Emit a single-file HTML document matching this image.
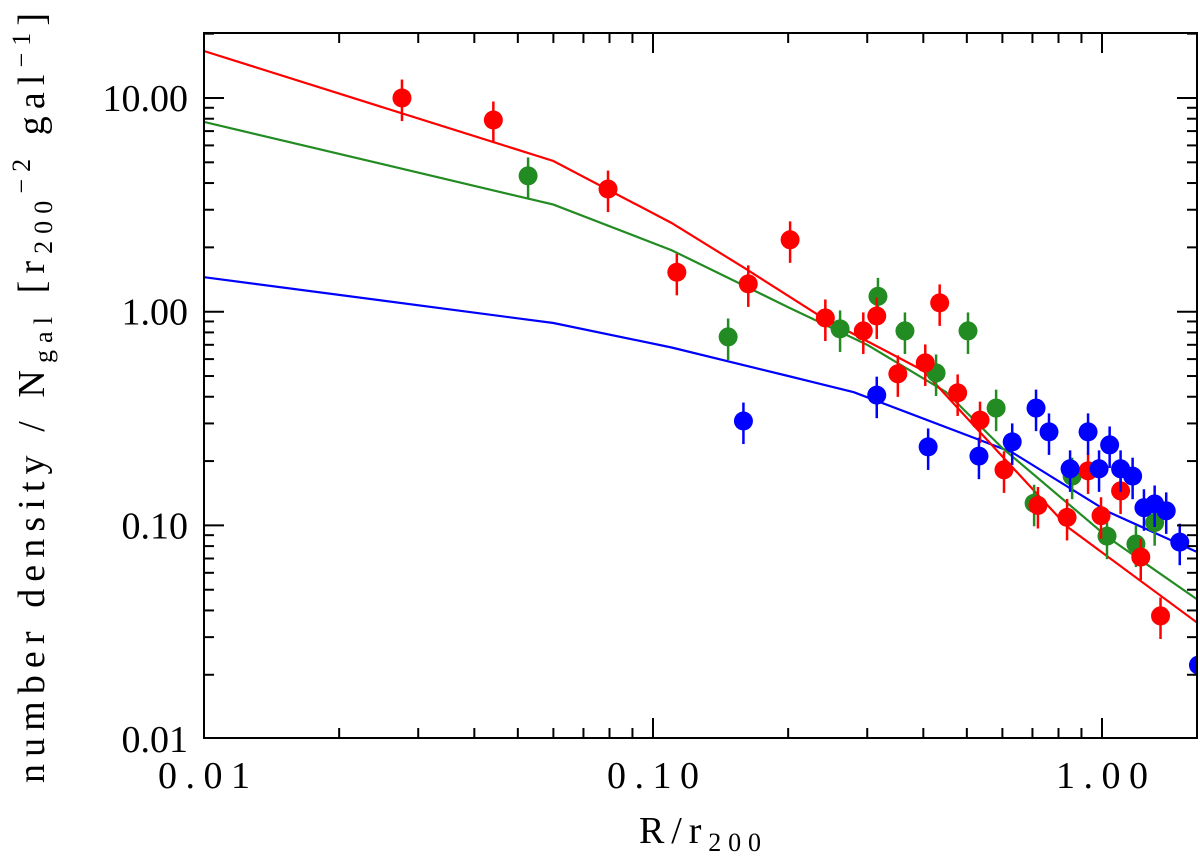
<!DOCTYPE html>
<html><head><meta charset="utf-8"><style>
body{margin:0;background:#fff}
svg{display:block;font-family:"Liberation Serif",serif}
</style></head><body>
<svg id="chart" width="1200" height="859" viewBox="0 0 1200 859">
<g id="lines"></g>
<g id="points"></g>
<g id="axes"></g>
<text x="700" y="843" font-size="38" text-anchor="middle" textLength="122" lengthAdjust="spacing">R/r<tspan font-size="26" dy="8">200</tspan></text>
<text transform="translate(44,398) rotate(-90)" font-size="38" text-anchor="middle" textLength="770" lengthAdjust="spacing">number density / N<tspan font-size="26" dy="8">gal</tspan><tspan dy="-8"> [r</tspan><tspan font-size="26" dy="8">200</tspan><tspan font-size="26" dy="-22">−2</tspan><tspan dy="14"> gal</tspan><tspan font-size="26" dy="-14">−1</tspan><tspan dy="14">]</tspan></text>
</svg>
<script>
const redX=[0.0276,0.0441,0.0794,0.113,0.163,0.202,0.242,0.294,0.315,0.351,0.404,0.435,0.477,0.535,0.605,0.720,0.836,0.995,0.931,1.10,1.22,1.35];
const redY=[10,7.89,3.75,1.53,1.35,2.17,0.935,0.813,0.955,0.512,0.576,1.10,0.417,0.311,0.182,0.124,0.109,0.111,0.180,0.145,0.0711,0.0377];
const greenX=[0.0527,0.147,0.261,0.317,0.364,0.427,0.503,0.581,0.706,0.858,1.026,1.19,1.31];
const greenY=[4.32,0.762,0.831,1.18,0.813,0.517,0.813,0.354,0.127,0.170,0.0891,0.0818,0.103];
const blueX=[0.159,0.315,0.410,0.532,0.631,0.713,0.762,0.849,0.931,0.985,1.04,1.10,1.17,1.24,1.31,1.39,1.49,1.64];
const blueY=[0.308,0.407,0.233,0.211,0.246,0.354,0.274,0.184,0.274,0.184,0.238,0.184,0.170,0.121,0.126,0.117,0.0835,0.0222];
const errFrac=0.22;
const redLineX=[0.01,0.06,0.11,0.16,0.24,0.4,0.6,0.84,1.63];
const redLineY=[16.6,5.07,2.6,1.6,0.93,0.53,0.21,0.098,0.035];
const greenLineX=[0.01,0.06,0.11,0.2,0.3,0.45,0.6,1.03,1.63];
const greenLineY=[7.73,3.17,1.94,1.05,0.7,0.42,0.23,0.088,0.045];
const blueLineX=[0.01,0.06,0.11,0.2,0.28,0.63,1.03,1.63];
const blueLineY=[1.45,0.885,0.68,0.5,0.42,0.22,0.116,0.075];
const xTicks=[0.01,0.1,1];
const xTickLabels=["0.01","0.10","1.00"];
const yTicks=[10,1,0.1,0.01];
const yTickLabels=["10.00","1.00","0.10","0.01"];

const L=204,R=1197,T=33,B=738;
const X0=-2, XD=449, Y0=1, YD=213.7, Y10=98;
function sx(v){return L+(Math.log10(v)-X0)*XD;}
function sy(v){return Y10-(Math.log10(v)-Y0)*YD;}
const NS="http://www.w3.org/2000/svg";
function mk(tag,attrs,parent){const e=document.createElementNS(NS,tag);for(const k in attrs)e.setAttribute(k,attrs[k]);parent.appendChild(e);return e;}
const lines=document.getElementById('lines'),pts=document.getElementById('points'),axes=document.getElementById('axes');
const clip=mk('clipPath',{id:'pc'},document.getElementById('chart'));
mk('rect',{x:L,y:T,width:R-L,height:B-T},clip);
lines.setAttribute('clip-path','url(#pc)');pts.setAttribute('clip-path','url(#pc)');

function drawLine(xs,ys,col,name){
  const d=xs.map((x,i)=>(i?'L':'M')+sx(x).toFixed(1)+','+sy(ys[i]).toFixed(1)).join('');
  const p=mk('path',{d:d,fill:'none',stroke:col,'stroke-width':2.2},lines);
  
  
}
drawLine(blueLineX,blueLineY,'#0000ff','blue-model-line');
drawLine(greenLineX,greenLineY,'#228b22','green-model-line');
drawLine(redLineX,redLineY,'#ff0000','red-model-line');

function drawPts(xs,ys,col,name){
  xs.forEach((x,i)=>{
    const g=mk('g',{},pts);
    
    
    const cx=sx(x),cy=sy(ys[i]);
    mk('line',{x1:cx,x2:cx,y1:sy(ys[i]*(1+errFrac)),y2:sy(ys[i]*(1-errFrac)),stroke:col,'stroke-width':2.5},g);
    mk('circle',{cx:cx,cy:cy,r:9.5,fill:col},g);
  });
}
drawPts(greenX,greenY,'#228b22','green');
drawPts(redX,redY,'#ff0000','red');
drawPts(blueX,blueY,'#0000ff','blue');

const fr=mk('rect',{x:L,y:T,width:R-L,height:B-T,fill:'none',stroke:'#000','stroke-width':2},axes);


for(let e=-2;e<=0;e++){for(let m=1;m<=9;m++){const v=m*Math.pow(10,e);const x=sx(v);if(x>R)continue;const len=m==1?20:10;
  mk('line',{x1:x,x2:x,y1:B,y2:B-len,stroke:'#000','stroke-width':2},axes);
  mk('line',{x1:x,x2:x,y1:T,y2:T+len,stroke:'#000','stroke-width':2},axes);}}
xTicks.forEach((v,i)=>{const t=mk('text',{x:sx(v),y:788,'font-size':38,'text-anchor':'middle',textLength:92,lengthAdjust:'spacing'},axes);t.textContent=xTickLabels[i];
  
  });
for(let e=-2;e<=1;e++){for(let m=1;m<=9;m++){const v=m*Math.pow(10,e);const y=sy(v);if(y<T-1||y>B+1)continue;const len=m==1?20:10;
  mk('line',{x1:L,x2:L+len,y1:y,y2:y,stroke:'#000','stroke-width':2},axes);
  mk('line',{x1:R,x2:R-len,y1:y,y2:y,stroke:'#000','stroke-width':2},axes);}}
yTicks.forEach((v,i)=>{const t=mk('text',{x:188,y:sy(v)+13,'font-size':38,'text-anchor':'end'},axes);t.textContent=yTickLabels[i];
  
  });
</script>
</body></html>
